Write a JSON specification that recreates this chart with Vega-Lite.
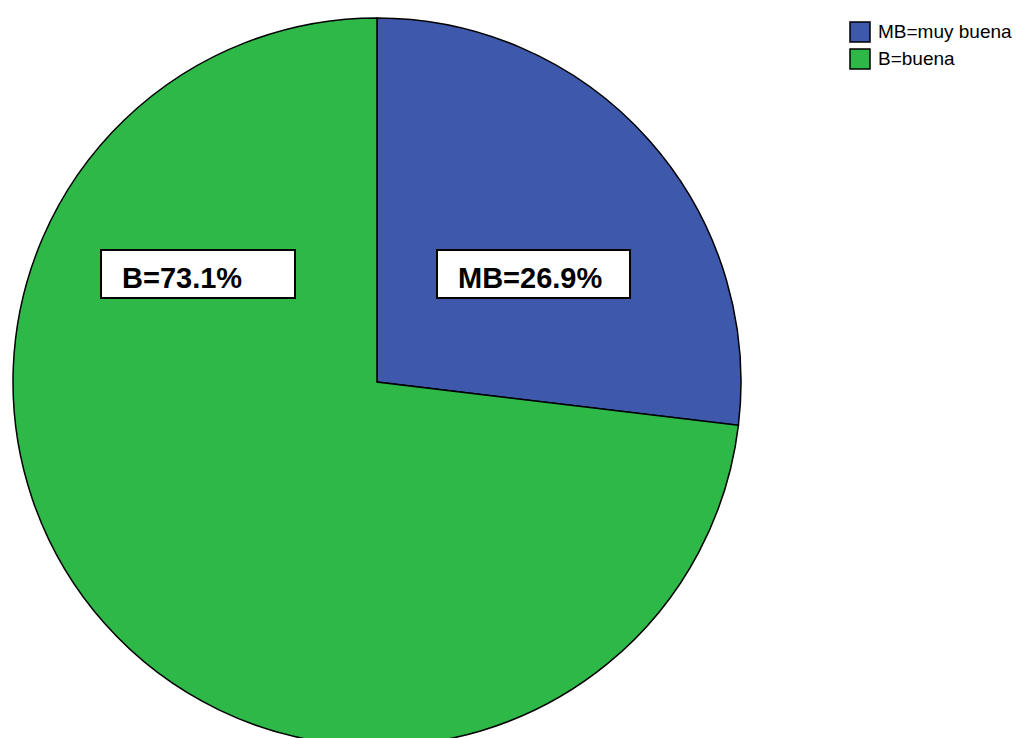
{
  "$schema": "https://vega.github.io/schema/vega-lite/v6.json",
  "width": 1019,
  "height": 738,
  "padding": 0,
  "autosize": {"type": "none"},
  "background": "white",
  "config": {"view": {"stroke": null}},
  "data": {
    "values": [
      {"cat": "MB=muy buena", "short": "MB", "pct": 26.9, "label": "MB=26.9%"},
      {"cat": "B=buena", "short": "B", "pct": 73.1, "label": "B=73.1%"}
    ]
  },
  "layer": [
    {
      "mark": {"type": "arc", "radius": 364, "stroke": "black", "strokeWidth": 1.5},
      "encoding": {
        "x": {"datum": 0, "type": "quantitative", "scale": {"domain": [-1.03571, 1.76374], "nice": false, "zero": false}, "axis": null},
        "y": {"datum": 0, "type": "quantitative", "scale": {"domain": [-0.97802, 1.04945], "nice": false, "zero": false}, "axis": null},
        "theta": {"field": "pct", "type": "quantitative", "stack": true},
        "order": {"field": "pct", "sort": "ascending"},
        "color": {
          "field": "cat",
          "type": "nominal",
          "scale": {"domain": ["MB=muy buena", "B=buena"], "range": ["#3E58AC", "#2EB848"]},
          "legend": {
            "title": null,
            "orient": "none",
            "legendX": 849,
            "legendY": 21,
            "padding": 0,
            "symbolType": "square",
            "symbolSize": 400,
            "symbolStrokeColor": "black",
            "symbolStrokeWidth": 1.5,
            "labelFont": "Liberation Sans",
            "labelFontSize": 19,
            "labelColor": "black",
            "labelOffset": 7,
            "rowPadding": 1
          }
        }
      }
    },
    {
      "transform": [{"filter": "datum.short === 'B'"}],
      "mark": {"type": "rect", "fill": "white", "stroke": "black", "strokeWidth": 2},
      "encoding": {
        "x": {"datum": -0.7582, "type": "quantitative"},
        "x2": {"datum": -0.2253},
        "y": {"datum": 0.3626, "type": "quantitative"},
        "y2": {"datum": 0.2308}
      }
    },
    {
      "transform": [{"filter": "datum.short === 'MB'"}],
      "mark": {"type": "rect", "fill": "white", "stroke": "black", "strokeWidth": 2},
      "encoding": {
        "x": {"datum": 0.1648, "type": "quantitative"},
        "x2": {"datum": 0.6951},
        "y": {"datum": 0.3626, "type": "quantitative"},
        "y2": {"datum": 0.2308}
      }
    },
    {
      "transform": [{"filter": "datum.short === 'B'"}],
      "mark": {"type": "text", "font": "Liberation Sans", "fontWeight": "bold", "fontSize": 29, "align": "left", "baseline": "alphabetic", "color": "black"},
      "encoding": {
        "x": {"datum": -0.7005, "type": "quantitative"},
        "y": {"datum": 0.2582, "type": "quantitative"},
        "text": {"field": "label"}
      }
    },
    {
      "transform": [{"filter": "datum.short === 'MB'"}],
      "mark": {"type": "text", "font": "Liberation Sans", "fontWeight": "bold", "fontSize": 29, "align": "left", "baseline": "alphabetic", "color": "black"},
      "encoding": {
        "x": {"datum": 0.2225, "type": "quantitative"},
        "y": {"datum": 0.2582, "type": "quantitative"},
        "text": {"field": "label"}
      }
    }
  ]
}
